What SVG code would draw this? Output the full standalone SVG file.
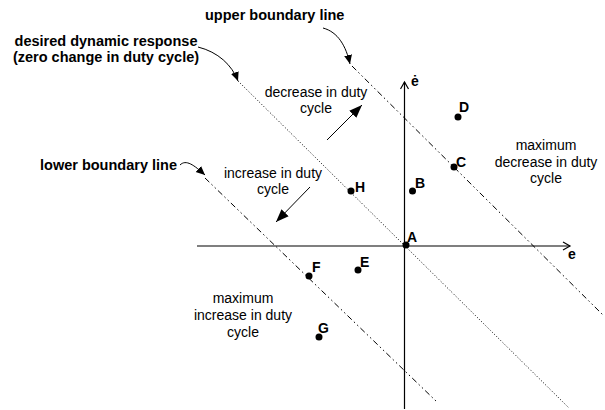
<svg xmlns="http://www.w3.org/2000/svg" width="605" height="410" viewBox="0 0 605 410">
<defs>
<style>
text{font-family:"Liberation Sans",Arial,sans-serif;fill:#000}
.b{font-weight:bold;font-size:14.5px}
.p{font-weight:bold;font-size:14px}
.r{font-size:14px;text-anchor:middle}
.ax{stroke:#000;stroke-width:1.2;fill:none}
.dot{stroke:#000;stroke-width:1;fill:none;stroke-dasharray:1,2}
.dd{stroke:#000;stroke-width:1;fill:none;stroke-dasharray:6,3,1.5,3,1.5,3}
.cv{stroke:#000;stroke-width:1;fill:none}
.pt{fill:#000}
</style>
<marker id="open" markerWidth="10" markerHeight="10" refX="8" refY="5" orient="auto" markerUnits="userSpaceOnUse">
<path d="M1,1 L8,5 L1,9" fill="none" stroke="#000" stroke-width="1.2"/>
</marker>
<marker id="fill" markerWidth="14" markerHeight="12" refX="13" refY="6" orient="auto" markerUnits="userSpaceOnUse">
<path d="M0,1 L13,6 L0,11 z" fill="#000"/>
</marker>
<marker id="sm" markerWidth="10" markerHeight="10" refX="9" refY="4" orient="auto" markerUnits="userSpaceOnUse">
<path d="M0,0 L9,4 L0,8 z" fill="#000"/>
</marker>
</defs>

<g id="connectors">
<line class="ax" x1="197" y1="246" x2="570" y2="246" marker-end="url(#open)"/>
<line class="ax" x1="404.5" y1="409" x2="404.5" y2="82" marker-end="url(#open)"/>
<line class="dot" x1="238" y1="81" x2="569" y2="408"/>
<line class="dd" x1="352" y1="66" x2="604" y2="316"/>
<line class="dd" x1="205" y1="178" x2="437" y2="402"/>
<line class="cv" x1="327" y1="140" x2="362" y2="105" marker-end="url(#fill)"/>
<line class="cv" x1="310" y1="187" x2="276" y2="222" marker-end="url(#fill)"/>
<path class="cv" d="M323,28 C338,32 346,46 350,64" marker-end="url(#sm)"/>
<path class="cv" d="M198,47 C218,52 232,65 238,81" marker-end="url(#sm)"/>
<path class="cv" d="M180,165 C186,159 194,165 205,175" marker-end="url(#sm)"/>
</g>

<g id="labels">
<text class="b" x="205" y="20">upper boundary line</text>
<text class="b" x="106" y="46" text-anchor="middle">desired dynamic response</text>
<text class="b" x="106" y="62" text-anchor="middle">(zero change in duty cycle)</text>
<text class="b" x="40" y="170">lower boundary line</text>
<text class="r" x="316" y="97">decrease in duty</text>
<text class="r" x="316" y="113">cycle</text>
<text class="r" x="273" y="178">increase in duty</text>
<text class="r" x="273" y="194">cycle</text>
<text class="r" x="546" y="150">maximum</text>
<text class="r" x="546" y="167">decrease in duty</text>
<text class="r" x="546" y="183">cycle</text>
<text class="r" x="243" y="303">maximum</text>
<text class="r" x="243" y="320">increase in duty</text>
<text class="r" x="243" y="337">cycle</text>
<text class="p" x="411" y="86">ė</text>
<text class="p" x="568" y="259">e</text>
</g>

<g id="A"><circle class="pt" cx="406" cy="245" r="3.5"/><text class="p" x="407" y="242">A</text></g>
<g id="B"><circle class="pt" cx="412.5" cy="191" r="3.5"/><text class="p" x="415" y="188">B</text></g>
<g id="C"><circle class="pt" cx="454" cy="167" r="3.5"/><text class="p" x="456" y="167">C</text></g>
<g id="D"><circle class="pt" cx="458" cy="117" r="3.5"/><text class="p" x="459" y="112">D</text></g>
<g id="E"><circle class="pt" cx="358" cy="270" r="3.5"/><text class="p" x="360" y="267">E</text></g>
<g id="F"><circle class="pt" cx="309" cy="276" r="3.5"/><text class="p" x="312" y="272">F</text></g>
<g id="G"><circle class="pt" cx="319" cy="337" r="3.5"/><text class="p" x="318" y="333">G</text></g>
<g id="H"><circle class="pt" cx="351" cy="191" r="3.5"/><text class="p" x="355" y="192">H</text></g>
</svg>
